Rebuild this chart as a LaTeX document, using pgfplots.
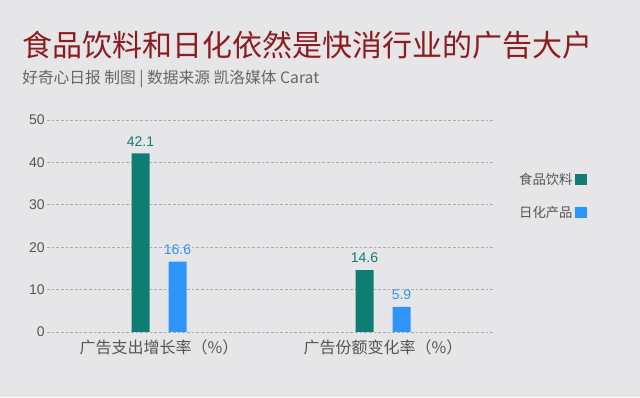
\documentclass[border=0pt]{standalone}
\usepackage{pgfplots}
\pgfplotsset{compat=1.18}
\usepackage{fontspec}
\setmainfont{Liberation Sans}
\newfontfamily\cjk{Noto Sans CJK SC}
\definecolor{bg}{HTML}{E6E6E8}
\definecolor{titlered}{HTML}{8E1B1E}
\definecolor{subgray}{HTML}{666666}
\definecolor{labgray}{HTML}{555555}
\definecolor{gridgray}{HTML}{ABABAB}
\definecolor{teal1}{HTML}{0F7D72}
\definecolor{blue1}{HTML}{2E95F8}
\begin{document}
\begin{tikzpicture}
\fill[bg] (0,0) rectangle (480pt,297.75pt);
\node[anchor=west, text=titlered, font=\cjk\fontsize{22.5}{26}\selectfont, inner sep=0pt] at (16.5pt,264pt) {食品饮料和日化依然是快消行业的广告大户};
\node[anchor=west, text=subgray, font=\cjk\fontsize{11.8}{14}\selectfont, inner sep=0pt] at (16.5pt,238.5pt) {好奇心日报 制图 | 数据来源 凯洛媒体 Carat};
\begin{axis}[
  at={(35.25pt,48.75pt)}, anchor=south west,
  scale only axis, width=336pt, height=159pt,
  ymin=0, ymax=50, ytick={0,10,20,30,40,50},
  xmin=-0.5, xmax=1.5, xtick={0,1},
  xticklabels={广告支出增长率（\%）, 广告份额变化率（\%）},
  axis line style={draw=none},
  major tick length=0pt,
  ymajorgrids,
  grid style={gridgray, dash pattern=on 2pt off 1.5pt, line width=0.5pt},
  /pgf/number format/assume math mode=true,
  yticklabel style={font=\fontsize{10.5}{12}\selectfont, text=labgray, inner sep=1.5pt},
  xticklabel style={font=\cjk\fontsize{12}{14}\selectfont, text=labgray, inner sep=2pt, yshift=-3.5pt},
  legend plot pos=right,
  legend style={draw=none, fill=none, inner sep=0pt, at={(1.205,0.764)}, anchor=north east,
    font=\cjk\fontsize{10}{12}\selectfont, text=labgray, row sep=11pt},
  legend cell align=right,
  legend image code/.code={\fill[#1, draw=none] (0pt,-4.2pt) rectangle (8.5pt,4.2pt);},
  nodes near coords,
  nodes near coords style={font=\fontsize{10.5}{12}\selectfont, /pgf/number format/assume math mode=true, yshift=2pt},
]
\addplot[ybar, bar width=13.5pt, bar shift=-13.875pt, fill=teal1, draw=none,
  nodes near coords style={text=teal1, xshift=-13.875pt}] coordinates {(0,42.1) (1,14.6)};
\addlegendentry{食品饮料}
\addplot[ybar, bar width=13.5pt, bar shift=13.875pt, fill=blue1, draw=none,
  nodes near coords style={text=blue1, xshift=13.875pt}] coordinates {(0,16.6) (1,5.9)};
\addlegendentry{日化产品}
\end{axis}
\pgfresetboundingbox
\useasboundingbox (0,0) rectangle (480pt,297.75pt);
\end{tikzpicture}
\end{document}
